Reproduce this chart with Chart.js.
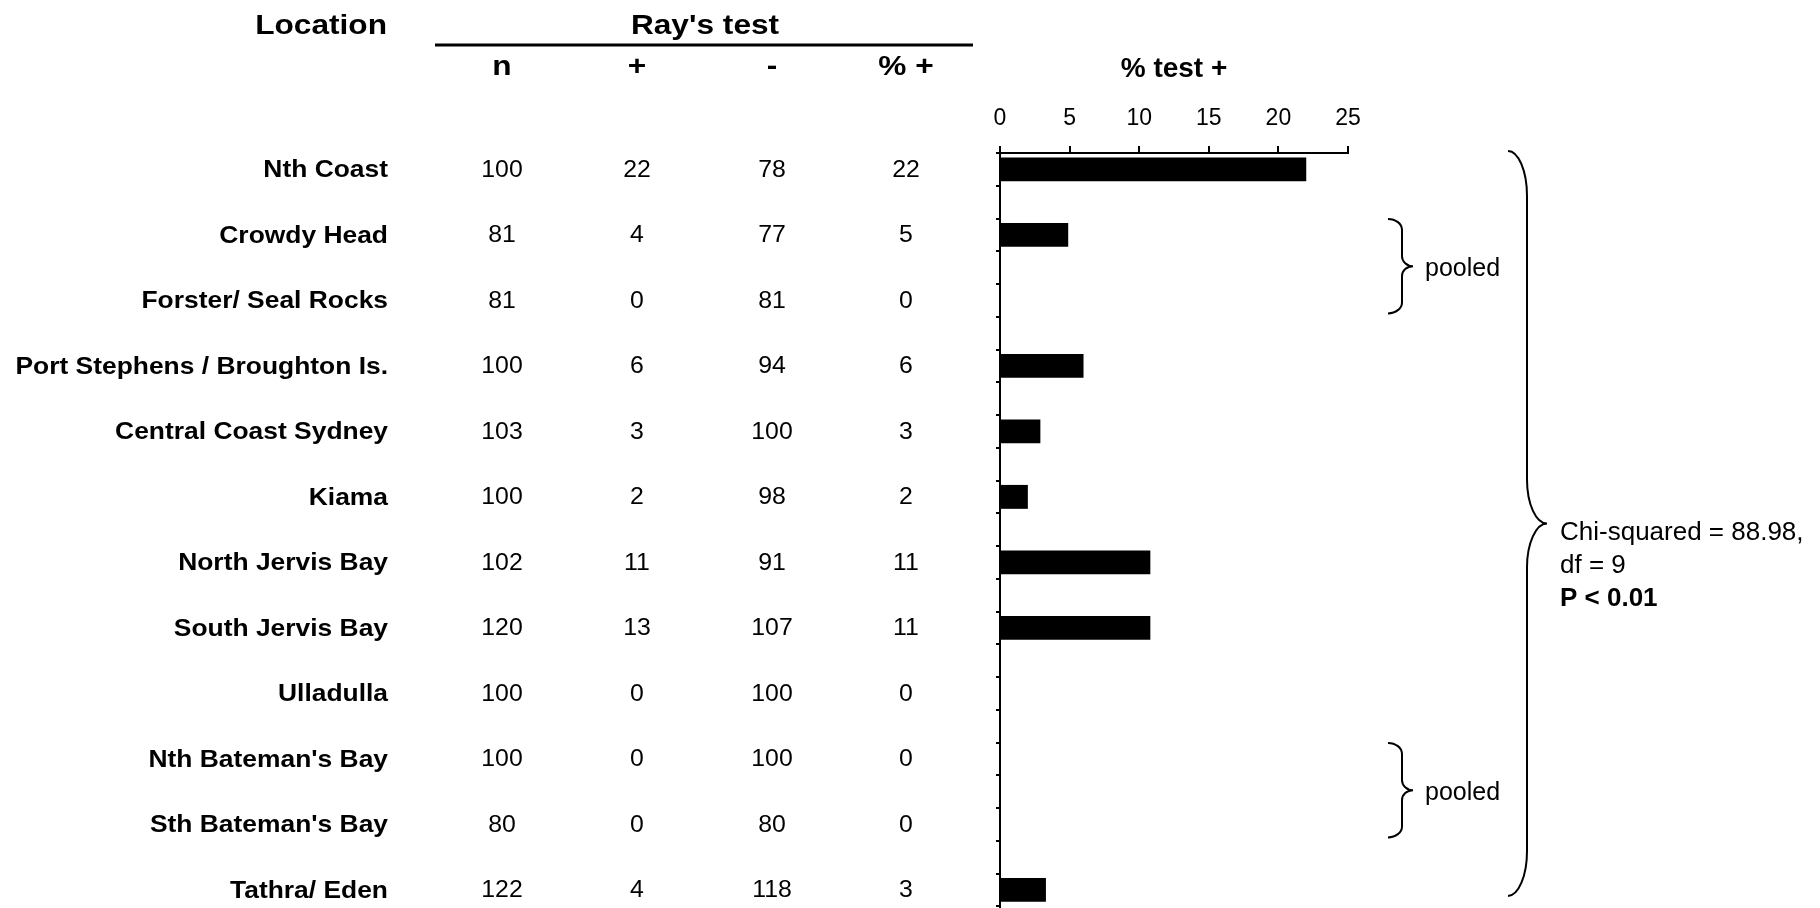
<!DOCTYPE html>
<html>
<head>
<meta charset="utf-8">
<title>Ray's test</title>
<script src="https://cdn.jsdelivr.net/npm/chart.js@4"></script>
<style>
  html, body { margin: 0; padding: 0; background: #fff; overflow: hidden; }
  #wrap { width: 1820px; height: 908px; overflow: hidden; }
</style>
</head>
<body>
<div id="wrap"><canvas id="rayChart" width="1820" height="960"></canvas></div>
<script>
const locations = ['Nth Coast', 'Crowdy Head', 'Forster/ Seal Rocks', 'Port Stephens / Broughton Is.',
  'Central Coast Sydney', 'Kiama', 'North Jervis Bay', 'South Jervis Bay', 'Ulladulla',
  "Nth Bateman's Bay", "Sth Bateman's Bay", 'Tathra/ Eden'];
const nTested = [100, 81, 81, 100, 103, 100, 102, 120, 100, 100, 80, 122];
const posCount = [22, 4, 0, 6, 3, 2, 11, 13, 0, 0, 0, 4];
const negCount = [78, 77, 81, 94, 100, 98, 91, 107, 100, 100, 80, 118];
const pctLabel = [22, 5, 0, 6, 3, 2, 11, 11, 0, 0, 0, 3];
const pctBar = [22, 4.9, 0, 6, 2.9, 2, 10.8, 10.8, 0, 0, 0, 3.3];
const colHeaders = ['n', '+', '-', '% +'];
const xMin = 0, xMax = 25, xStep = 5;
const pooledGroups = [[1, 2], [9, 10]];
const statLines = ['Chi-squared = 88.98,', 'df = 9', 'P < 0.01'];

const FONT = '"Liberation Sans", Arial, sans-serif';
const colX = [502, 637, 772, 906];

// every location takes two slots on the axis (row + blank), like the original sheet
const slotLabels = locations.flatMap(l => [l, '']);
const slotData = pctBar.flatMap(v => [v, null]);

// the table in the original is a bit stretched sideways
function wideText(ctx, str, x, y, align, sx) {
  ctx.save();
  ctx.translate(x, y);
  ctx.scale(sx || 1.1, 1);
  ctx.textAlign = align;
  ctx.fillText(str, 0, 0);
  ctx.restore();
}

function brace(ctx, x0, xMid, xTip, top, bottom, r, rTip) {
  const tipY = (top + bottom) / 2;
  ctx.beginPath();
  ctx.ellipse(x0, top + r, xMid - x0, r, 0, -Math.PI / 2, 0, false);
  ctx.lineTo(xMid, tipY - rTip);
  ctx.ellipse(xTip, tipY - rTip, xTip - xMid, rTip, 0, Math.PI, Math.PI / 2, true);
  ctx.ellipse(xTip, tipY + rTip, xTip - xMid, rTip, 0, Math.PI * 1.5, Math.PI, true);
  ctx.lineTo(xMid, bottom - r);
  ctx.ellipse(x0, bottom - r, xMid - x0, r, 0, 0, Math.PI / 2, false);
  ctx.stroke();
  return tipY;
}

const tablePlugin = {
  id: 'tableText',
  afterDraw(chart) {
    const ctx = chart.ctx;
    const yScale = chart.scales.y;
    ctx.save();
    ctx.fillStyle = '#000';
    ctx.strokeStyle = '#000';
    ctx.textBaseline = 'middle';

    // table headers
    ctx.font = 'bold 28px ' + FONT;
    wideText(ctx, 'Location', 387, 26, 'right', 1.13);
    wideText(ctx, "Ray's test", 705, 26, 'center', 1.13);
    colHeaders.forEach((h, c) => wideText(ctx, h, colX[c], 67, 'center', 1.13));
    ctx.lineWidth = 3;
    ctx.beginPath();
    ctx.moveTo(435, 45);
    ctx.lineTo(973, 45);
    ctx.stroke();

    // table rows, lined up with the bars
    locations.forEach((loc, i) => {
      const yy = yScale.getPixelForValue(i * 2) + 1;
      ctx.font = 'bold 24px ' + FONT;
      wideText(ctx, loc, 388, yy, 'right', 1.1);
      ctx.font = '23px ' + FONT;
      [nTested[i], posCount[i], negCount[i], pctLabel[i]].forEach((v, c) => {
        wideText(ctx, String(v), colX[c], yy, 'center', 1.08);
      });
    });

    // braces on the right
    ctx.lineWidth = 2;
    ctx.font = '25px ' + FONT;
    ctx.textAlign = 'left';
    pooledGroups.forEach(g => {
      const top = yScale.getPixelForValue(g[0] * 2) - 16;
      const bottom = yScale.getPixelForValue(g[1] * 2) + 13;
      const tip = brace(ctx, 1388, 1402, 1413, top, bottom, 11, 10);
      ctx.fillText('pooled', 1425, tip + 3);
    });

    const bigTop = chart.chartArea.top - 2;
    const bigBottom = yScale.getPixelForValue((locations.length - 1) * 2) + 6;
    const tip = brace(ctx, 1508, 1527, 1547, bigTop, bigBottom, 45, 44);
    statLines.forEach((s, k) => {
      ctx.font = (k === 2 ? 'bold ' : '') + '26px ' + FONT;
      ctx.fillText(s, 1560, tip + 9 + k * 33);
    });
    ctx.restore();
  }
};

Chart.defaults.color = '#000';
Chart.defaults.font.family = FONT;

new Chart(document.getElementById('rayChart'), {
  type: 'bar',
  data: {
    labels: slotLabels,
    datasets: [{
      label: '% test +',
      data: slotData,
      backgroundColor: '#000',
      borderWidth: 0,
      barPercentage: 0.73,
      categoryPercentage: 1
    }]
  },
  options: {
    indexAxis: 'y',
    responsive: false,
    animation: false,
    layout: { padding: { left: 950, right: 472, top: 40, bottom: 21 } },
    scales: {
      x: {
        position: 'top',
        min: xMin,
        max: xMax,
        afterFit: (scale) => { scale.height = 113; },
        ticks: { stepSize: xStep, padding: 14, font: { size: 23 }, color: '#000' },
        grid: { drawOnChartArea: false, tickLength: 7, color: '#000', lineWidth: 2 },
        border: { color: '#000', width: 2 },
        title: { display: true, text: '% test +', font: { size: 28, weight: 'bold' }, padding: { top: 12, bottom: 0 }, color: '#000' }
      },
      y: {
        afterFit: (scale) => { scale.width = 50; },
        offset: true,
        ticks: { display: false, autoSkip: false },
        grid: { offset: true, drawOnChartArea: false, tickLength: 4, color: '#000', lineWidth: 2 },
        border: { color: '#000', width: 2 }
      }
    },
    plugins: {
      legend: { display: false },
      tooltip: { enabled: false }
    }
  },
  plugins: [tablePlugin]
});
</script>
</body>
</html>
